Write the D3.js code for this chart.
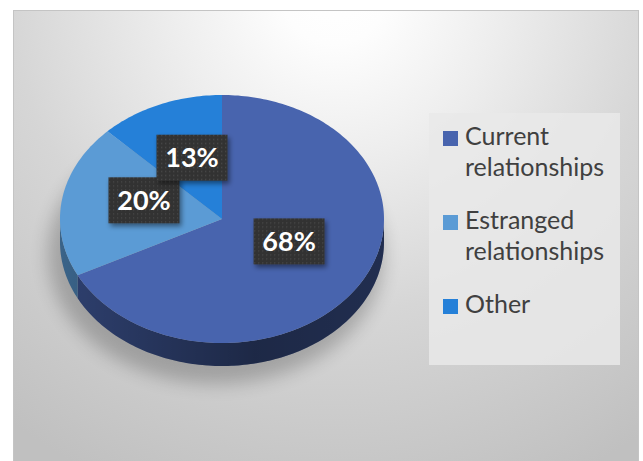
<!DOCTYPE html>
<meta charset="utf-8">
<style>
  body { margin: 0; background: #fff; }
  .legend text { font-family: Lato, "Open Sans", sans-serif; font-size: 25px; fill: #404040; }
  .label text { font-family: Lato, "Open Sans", sans-serif; font-size: 27px; font-weight: bold; fill: #fff; }
</style>
<svg width="643" height="461"></svg>
<script src="https://d3js.org/d3.v7.min.js"></script>
<script>
  // chart data
  var categories = ["Current relationships", "Estranged relationships", "Other"];
  var legendLines = [["Current", "relationships"], ["Estranged", "relationships"], ["Other"]];
  var shares = [67.5, 20, 12.5];
  var percentLabels = ["68%", "20%", "13%"];
  var colors = ["#4864ae", "#5b9bd5", "#2580d8"];

  var svg = d3.select("svg");
  var defs = svg.append("defs");

  // background gradient of the chart area
  var bg = defs.append("radialGradient").attr("id", "bg")
      .attr("gradientUnits", "userSpaceOnUse")
      .attr("cx", 335).attr("cy", -10).attr("r", 540);
  bg.append("stop").attr("offset", 0).attr("stop-color", "#ffffff");
  bg.append("stop").attr("offset", 0.1).attr("stop-color", "#fdfdfd");
  bg.append("stop").attr("offset", 0.3).attr("stop-color", "#eeeeee");
  bg.append("stop").attr("offset", 0.6).attr("stop-color", "#d6d6d6");
  bg.append("stop").attr("offset", 1).attr("stop-color", "#c0c0c0");

  svg.append("rect")
      .attr("x", 13.5).attr("y", 10.5)
      .attr("width", 625).attr("height", 470)
      .attr("fill", "url(#bg)")
      .attr("stroke", "#c4c4c4");

  // pie geometry (ellipse seen from above)
  var cx = 222, cy = 219, rx = 162, ry = 124, depth = 23;

  var pie = d3.pie().sort(null).value(function(d) { return d; });
  var arcs = pie(shares);

  function px(a, r) { return cx + rx * (r == null ? 1 : r) * Math.sin(a); }
  function py(a, r) { return cy - ry * (r == null ? 1 : r) * Math.cos(a); }

  function arcPoints(a0, a1, dy) {
    var pts = [], n = Math.max(2, Math.ceil((a1 - a0) / 0.02));
    for (var i = 0; i <= n; i++) {
      var a = a0 + (a1 - a0) * i / n;
      pts.push([px(a), py(a) + dy]);
    }
    return pts;
  }

  var line = d3.line();

  // soft shadow under the pie
  var blur = defs.append("filter").attr("id", "blur")
      .attr("x", "-30%").attr("y", "-30%").attr("width", "160%").attr("height", "160%");
  blur.append("feGaussianBlur").attr("stdDeviation", 9);
  svg.append("ellipse")
      .attr("cx", cx - 6).attr("cy", cy + depth + 12)
      .attr("rx", rx + 6).attr("ry", ry + 6)
      .attr("fill", "#000").attr("opacity", 0.22)
      .attr("filter", "url(#blur)");

  // front wall of each slice
  var wall = svg.append("g");
  arcs.forEach(function(d, i) {
    var a0 = Math.max(d.startAngle, Math.PI / 2),
        a1 = Math.min(d.endAngle, 3 * Math.PI / 2);
    if (a0 >= a1) return;
    var pts = arcPoints(a0, a1, 0).concat(arcPoints(a0, a1, depth).reverse());
    wall.append("path")
        .attr("d", line(pts) + "Z")
        .attr("fill", d3.color(colors[i]).darker(1.2));
  });

  // shading across the wall
  var shade = defs.append("linearGradient").attr("id", "shade")
      .attr("gradientUnits", "userSpaceOnUse")
      .attr("x1", cx - rx).attr("x2", cx + rx).attr("y1", 0).attr("y2", 0);
  shade.append("stop").attr("offset", 0).attr("stop-color", "#000").attr("stop-opacity", 0.02);
  shade.append("stop").attr("offset", 0.3).attr("stop-color", "#000").attr("stop-opacity", 0.2);
  shade.append("stop").attr("offset", 0.6).attr("stop-color", "#000").attr("stop-opacity", 0.38);
  shade.append("stop").attr("offset", 1).attr("stop-color", "#000").attr("stop-opacity", 0.3);
  var full = arcPoints(Math.PI / 2, 3 * Math.PI / 2, 0)
      .concat(arcPoints(Math.PI / 2, 3 * Math.PI / 2, depth).reverse());
  wall.append("path").attr("d", line(full) + "Z").attr("fill", "url(#shade)");

  // top faces
  svg.append("g").selectAll("path")
    .data(arcs)
    .enter().append("path")
      .attr("d", function(d) {
        return line([[cx, cy]].concat(arcPoints(d.startAngle, d.endAngle, 0))) + "Z";
      })
      .attr("fill", function(d, i) { return colors[i]; });

  // data labels
  var dots = defs.append("pattern").attr("id", "dots")
      .attr("width", 4).attr("height", 4).attr("patternUnits", "userSpaceOnUse");
  dots.append("rect").attr("width", 4).attr("height", 4).attr("fill", "#333333");
  dots.append("rect").attr("x", 1).attr("y", 1).attr("width", 1.2).attr("height", 1.2).attr("fill", "#4a4a4a");

  var drop = defs.append("filter").attr("id", "drop")
      .attr("x", "-20%").attr("y", "-20%").attr("width", "150%").attr("height", "150%");
  drop.append("feDropShadow").attr("dx", 2).attr("dy", 3).attr("stdDeviation", 2.5)
      .attr("flood-color", "#000").attr("flood-opacity", 0.45);

  var labelOffset = [[-2, -10], [2, -9], [1, -4]];
  var boxW = 71, boxH = 46;
  var label = svg.append("g").selectAll("g")
    .data(arcs)
    .enter().append("g")
      .attr("class", "label")
      .attr("transform", function(d, i) {
        var a = (d.startAngle + d.endAngle) / 2;
        return "translate(" + (px(a, 0.5) + labelOffset[i][0]) + "," + (py(a, 0.5) + labelOffset[i][1]) + ")";
      });
  label.append("rect")
      .attr("x", -boxW / 2).attr("y", -boxH / 2)
      .attr("width", boxW).attr("height", boxH)
      .attr("fill", "url(#dots)")
      .attr("filter", "url(#drop)");
  label.append("text")
      .attr("text-anchor", "middle")
      .attr("dy", "0.36em")
      .text(function(d, i) { return percentLabels[i]; });

  // legend
  var legend = svg.append("g").attr("class", "legend");
  legend.append("rect")
      .attr("x", 429).attr("y", 113)
      .attr("width", 191).attr("height", 252)
      .attr("fill", "#e9e9e9").attr("opacity", 0.85);

  var itemY = [145, 229, 313];
  var item = legend.selectAll("g.item")
    .data(categories)
    .enter().append("g")
      .attr("class", "item")
      .attr("transform", function(d, i) { return "translate(443," + itemY[i] + ")"; });
  item.append("rect")
      .attr("x", 0).attr("y", -14)
      .attr("width", 15).attr("height", 15)
      .attr("fill", function(d, i) { return colors[i]; });
  item.append("text")
      .attr("x", 22)
      .selectAll("tspan")
      .data(function(d, i) { return legendLines[i]; })
      .enter().append("tspan")
        .attr("x", 22)
        .attr("dy", function(d, j) { return j ? 31 : 0; })
        .text(function(d) { return d; });
</script>
